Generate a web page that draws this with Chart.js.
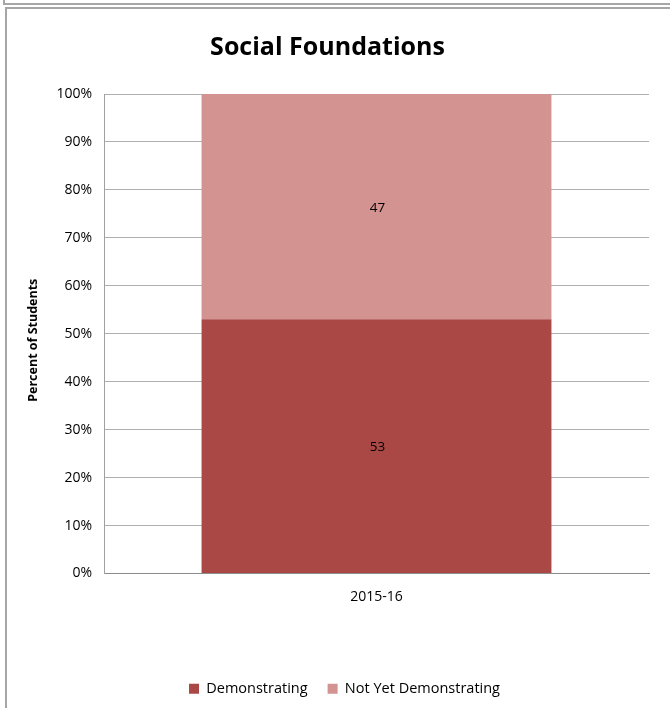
<!DOCTYPE html>
<html>
<head>
<meta charset="utf-8">
<script src="https://cdn.jsdelivr.net/npm/chart.js@4"></script>
<style>
    body { margin: 0; background: #fff; }
    #wrap { position: relative; width: 670px; height: 708px; overflow: hidden; }
    #prev { position: absolute; left: 3px; top: -10px; width: 700px; height: 13px;
            border-left: 2px solid #a6a6a6; border-bottom: 2px solid #a6a6a6; }
    #frame { position: absolute; left: 5px; top: 7px; width: 700px; height: 720px;
             border-left: 2px solid #a6a6a6; border-top: 2px solid #a6a6a6; }
    canvas { position: absolute; left: 0; top: 0; }
</style>
</head>
<body>
<div id="wrap">
    <div id="prev"></div>
    <div id="frame"></div>
    <canvas id="myChart" width="670" height="708"></canvas>
</div>
<script>
var labels = ['2015-16'];
var seriesNames = ['Demonstrating', 'Not Yet Demonstrating'];
var demonstrating = [53];
var notYetDemonstrating = [47];
var yTicks = [0, 10, 20, 30, 40, 50, 60, 70, 80, 90, 100];

var fontFamily = "'Open Sans', 'Liberation Sans', sans-serif";

// write the value in the middle of each stacked segment
var segmentLabels = {
    id: 'segmentLabels',
    afterDatasetsDraw: function(chart) {
        var ctx = chart.ctx;
        ctx.save();
        ctx.font = '13.5px ' + fontFamily;
        ctx.fillStyle = '#000';
        ctx.textAlign = 'center';
        ctx.textBaseline = 'middle';
        chart.data.datasets.forEach(function(ds, i) {
            chart.getDatasetMeta(i).data.forEach(function(bar, j) {
                ctx.fillText(ds.data[j], bar.x + 1, (bar.y + bar.base) / 2 + 1);
            });
        });
        ctx.restore();
    }
};

// legend sits a bit right of the canvas centre in the original
var legendShift = {
    id: 'legendShift',
    afterLayout: function(chart) {
        chart.legend.left += 34;
    }
};

var ctx = document.getElementById('myChart').getContext('2d');
var myChart = new Chart(ctx, {
    type: 'bar',
    data: {
        labels: labels,
        datasets: [{
            label: seriesNames[0],
            data: demonstrating,
            backgroundColor: '#aa4846',
            barPercentage: 0.642,
            categoryPercentage: 1
        }, {
            label: seriesNames[1],
            data: notYetDemonstrating,
            backgroundColor: '#d39391',
            barPercentage: 0.642,
            categoryPercentage: 1
        }]
    },
    plugins: [segmentLabels, legendShift],
    options: {
        responsive: false,
        animation: false,
        layout: { padding: { left: 6, right: 21, top: 0, bottom: 2 } },
        plugins: {
            title: {
                display: true,
                text: 'Social Foundations',
                color: '#000',
                font: { family: fontFamily, size: 25, weight: 'bold' },
                padding: { top: 33, bottom: 31 }
            },
            legend: {
                position: 'bottom',
                labels: {
                    boxWidth: 10,
                    boxHeight: 10,
                    padding: 20,
                    color: '#000',
                    font: { family: fontFamily, size: 14.5 }
                }
            },
            tooltip: { enabled: false }
        },
        scales: {
            x: {
                stacked: true,
                grid: { display: false, drawTicks: false },
                border: { display: true, color: '#8c8c8c', width: 1 },
                ticks: { color: '#000', padding: 15, font: { family: fontFamily, size: 14 } },
                afterFit: function(scale) { scale.height = 88; }
            },
            y: {
                stacked: true,
                min: 0,
                max: 100,
                afterBuildTicks: function(scale) {
                    scale.ticks = yTicks.map(function(v) { return { value: v }; });
                },
                grid: { color: '#b0b0b0', drawTicks: false },
                border: { display: true, color: '#a0a0a0', width: 1 },
                ticks: {
                    color: '#000',
                    padding: 12,
                    font: { family: fontFamily, size: 14 },
                    callback: function(v) { return v + '%'; }
                },
                title: {
                    display: true,
                    text: 'Percent of Students    ',
                    color: '#000',
                    font: { family: fontFamily, size: 12.5, weight: 'bold' },
                    padding: { top: 19.5, bottom: 0 }
                },
                afterFit: function(scale) { scale.width = 98; }
            }
        }
    }
});
</script>
</body>
</html>
